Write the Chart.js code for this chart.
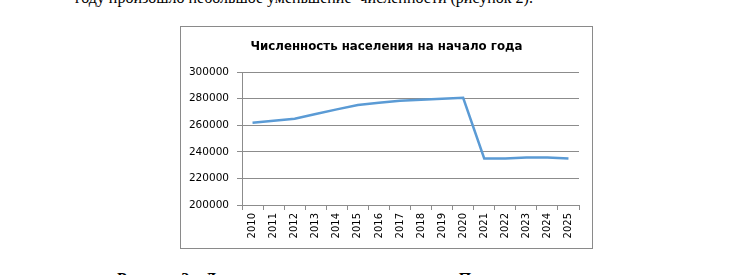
<!DOCTYPE html>
<html lang="ru">
<head>
<meta charset="utf-8">
<script src="https://cdn.jsdelivr.net/npm/chart.js@4"></script>
<style>
  html, body { margin: 0; padding: 0; background: #fff; }
  body { width: 749px; height: 275px; position: relative; overflow: hidden; }
  .para { position: absolute; left: 75px; top: -11px; font: 16px "Liberation Serif", "Times New Roman", serif; color: #000; white-space: nowrap; }
  .caption { position: absolute; left: 117px; top: 270px; font: bold 16px "Liberation Serif", "Times New Roman", serif; color: #000; white-space: nowrap; }
  .frame { position: absolute; left: 180px; top: 26px; width: 411px; height: 221px; border: 1px solid #8a8a8a; }
  .frame canvas { display: block; }
</style>
</head>
<body>
<div class="para">году произошло небольшое уменьшение&nbsp; численности (рисунок 2).</div>
<div class="frame"><canvas id="chart" width="411" height="221"></canvas></div>
<div class="caption">Рисунок 2 – Динамика численности населения П</div>
<script>
const years = ['2010', '2011', '2012', '2013', '2014', '2015', '2016', '2017',
               '2018', '2019', '2020', '2021', '2022', '2023', '2024', '2025'];
const population = [262000, 263500, 265000, 268500, 272000, 275300, 277000, 278500,
                    279300, 280000, 280700, 235000, 235000, 235800, 235800, 235000];
const yTicks = [200000, 220000, 240000, 260000, 280000, 300000];
const chartTitle = 'Численность населения на начало года';

const gridGray = '#8c8c8c';

new Chart(document.getElementById('chart').getContext('2d'), {
    type: 'line',
    data: {
        labels: years,
        datasets: [{
            data: population,
            borderColor: '#5b9bd5',
            borderWidth: 2.5,
            pointRadius: 0,
            tension: 0,
            fill: false
        }]
    },
    options: {
        responsive: false,
        animation: false,
        layout: { padding: 0 },
        plugins: {
            legend: { display: false },
            tooltip: { enabled: false },
            title: {
                display: true,
                text: chartTitle,
                color: '#000',
                font: { family: 'DejaVu Sans', size: 11.8, weight: 'bold', lineHeight: 1.2 },
                padding: { top: 13, bottom: 18 }
            }
        },
        scales: {
            x: {
                offset: true,
                grid: { offset: true, drawOnChartArea: false, drawTicks: true, tickLength: 5, color: gridGray },
                border: { display: true, color: gridGray, width: 1 },
                ticks: {
                    color: '#000',
                    font: { family: 'DejaVu Sans', size: 10 },
                    minRotation: 90,
                    maxRotation: 90,
                    autoSkip: false,
                    padding: 3
                },
                afterFit: function(scale) { scale.height = 43; }
            },
            y: {
                min: 200000,
                max: 300000,
                afterBuildTicks: function(scale) {
                    scale.ticks = yTicks.map(function(v) { return { value: v }; });
                },
                grid: { color: gridGray, drawTicks: true, tickLength: 5 },
                border: { display: true, color: gridGray, width: 1 },
                ticks: {
                    color: '#000',
                    font: { family: 'DejaVu Sans', size: 10.5 },
                    padding: 8,
                    callback: function(v) { return String(v); }
                },
                afterFit: function(scale) { scale.width = 61; }
            },
            // empty right-hand spacer so the title stays centred on the frame
            yRight: {
                position: 'right',
                min: 200000,
                max: 300000,
                grid: { display: false },
                border: { display: false },
                ticks: { display: false },
                afterFit: function(scale) { scale.width = 13; }
            }
        }
    }
});
</script>
</body>
</html>
